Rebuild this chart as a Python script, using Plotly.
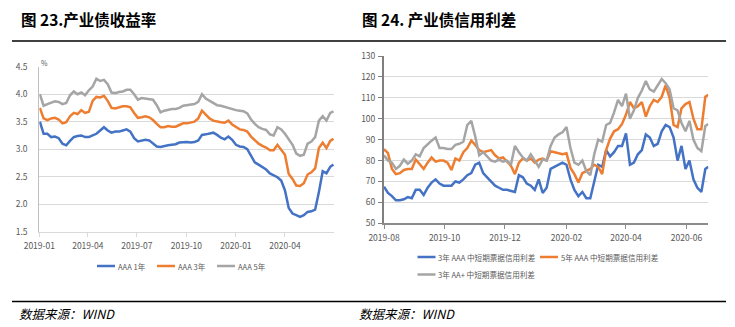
import plotly.graph_objects as go

W, H = 735, 327

# ---- 图23 产业债收益率 (%), weekly readings ----
yield_dates = [
    "2019-01-02", "2019-01-09", "2019-01-16", "2019-01-23", "2019-01-30", "2019-02-06",
    "2019-02-13", "2019-02-20", "2019-02-27", "2019-03-06", "2019-03-13", "2019-03-20",
    "2019-03-27", "2019-04-03", "2019-04-10", "2019-04-17", "2019-04-24", "2019-05-01",
    "2019-05-08", "2019-05-15", "2019-05-22", "2019-05-29", "2019-06-05", "2019-06-12",
    "2019-06-19", "2019-06-26", "2019-07-03", "2019-07-10", "2019-07-17", "2019-07-24",
    "2019-07-31", "2019-08-07", "2019-08-14", "2019-08-21", "2019-08-28", "2019-09-04",
    "2019-09-11", "2019-09-18", "2019-09-25", "2019-10-02", "2019-10-09", "2019-10-16",
    "2019-10-23", "2019-10-30", "2019-11-06", "2019-11-13", "2019-11-20", "2019-11-27",
    "2019-12-04", "2019-12-11", "2019-12-18", "2019-12-25", "2020-01-01", "2020-01-08",
    "2020-01-15", "2020-01-22", "2020-01-29", "2020-02-05", "2020-02-12", "2020-02-19",
    "2020-02-26", "2020-03-04", "2020-03-11", "2020-03-18", "2020-03-25", "2020-04-01",
    "2020-04-08", "2020-04-15", "2020-04-22", "2020-04-29", "2020-05-06", "2020-05-13",
    "2020-05-20", "2020-05-27", "2020-06-03", "2020-06-10", "2020-06-17", "2020-06-24",
    "2020-06-30",
]
aaa_1y = [
    3.50, 3.28, 3.28, 3.22, 3.23, 3.20, 3.10, 3.07, 3.15, 3.22, 3.24, 3.25,
    3.22, 3.22, 3.25, 3.28, 3.34, 3.40, 3.34, 3.30, 3.32, 3.32, 3.34, 3.36,
    3.32, 3.20, 3.14, 3.15, 3.17, 3.16, 3.11, 3.05, 3.04, 3.06, 3.07, 3.08,
    3.09, 3.12, 3.13, 3.13, 3.12, 3.13, 3.16, 3.26, 3.27, 3.28, 3.30, 3.26,
    3.21, 3.18, 3.23, 3.17, 3.08, 3.05, 3.04, 3.00, 2.88, 2.76, 2.72, 2.68,
    2.63, 2.56, 2.53, 2.49, 2.43, 2.25, 1.93, 1.83, 1.80, 1.77, 1.80, 1.86,
    1.87, 1.90, 2.22, 2.60, 2.56, 2.68, 2.72,
]
aaa_3y = [
    3.75, 3.56, 3.53, 3.56, 3.57, 3.54, 3.47, 3.49, 3.60, 3.66, 3.64, 3.71,
    3.66, 3.68, 3.88, 3.95, 3.94, 3.97, 3.88, 3.75, 3.74, 3.76, 3.78, 3.78,
    3.76, 3.66, 3.57, 3.58, 3.60, 3.58, 3.53, 3.46, 3.40, 3.40, 3.42, 3.41,
    3.41, 3.44, 3.47, 3.47, 3.48, 3.50, 3.56, 3.70, 3.63, 3.56, 3.52, 3.50,
    3.49, 3.48, 3.52, 3.45, 3.40, 3.36, 3.35, 3.32, 3.23, 3.16, 3.10, 3.06,
    3.03, 2.98, 2.98, 3.08, 2.98, 2.90, 2.55, 2.46, 2.34, 2.33, 2.38, 2.54,
    2.58, 2.65, 3.02, 3.12, 3.02, 3.15, 3.19,
]
aaa_5y = [
    4.00, 3.79, 3.82, 3.84, 3.87, 3.86, 3.82, 3.84, 3.98, 4.05, 4.00, 4.03,
    3.98, 4.07, 4.14, 4.28, 4.24, 4.26, 4.18, 4.03, 4.02, 4.04, 4.05, 4.08,
    4.08, 4.00, 3.90, 3.93, 3.92, 3.92, 3.90, 3.80, 3.67, 3.70, 3.72, 3.73,
    3.73, 3.75, 3.79, 3.80, 3.80, 3.82, 3.86, 4.00, 3.92, 3.88, 3.83, 3.80,
    3.79, 3.77, 3.75, 3.72, 3.71, 3.70, 3.69, 3.65, 3.54, 3.46, 3.40, 3.37,
    3.35, 3.27, 3.25, 3.40, 3.36, 3.28, 3.18, 3.08, 2.92, 2.88, 2.90, 3.10,
    3.14, 3.22, 3.52, 3.60, 3.52, 3.66, 3.69,
]
yield_tickvals = ["2019-01-01", "2019-04-01", "2019-07-01", "2019-10-01", "2020-01-01", "2020-04-01"]
yield_ticktext = ["2019-01", "2019-04", "2019-07", "2019-10", "2020-01", "2020-04"]

# ---- 图24 产业债信用利差 (BP) ----
spread_dates = [
    "2019-08-01", "2019-08-05", "2019-08-09", "2019-08-13", "2019-08-17", "2019-08-21",
    "2019-08-25", "2019-08-29", "2019-09-02", "2019-09-06", "2019-09-10", "2019-09-14",
    "2019-09-18", "2019-09-22", "2019-09-26", "2019-09-30", "2019-10-04", "2019-10-08",
    "2019-10-12", "2019-10-16", "2019-10-20", "2019-10-24", "2019-10-28", "2019-11-01",
    "2019-11-05", "2019-11-09", "2019-11-13", "2019-11-17", "2019-11-21", "2019-11-25",
    "2019-11-29", "2019-12-03", "2019-12-07", "2019-12-11", "2019-12-15", "2019-12-19",
    "2019-12-23", "2019-12-27", "2019-12-31", "2020-01-04", "2020-01-08", "2020-01-12",
    "2020-01-16", "2020-01-20", "2020-01-24", "2020-01-28", "2020-02-01", "2020-02-05",
    "2020-02-09", "2020-02-13", "2020-02-17", "2020-02-21", "2020-02-25", "2020-02-29",
    "2020-03-04", "2020-03-08", "2020-03-12", "2020-03-16", "2020-03-20", "2020-03-24",
    "2020-03-28", "2020-04-01", "2020-04-05", "2020-04-09", "2020-04-13", "2020-04-17",
    "2020-04-21", "2020-04-25", "2020-04-29", "2020-05-03", "2020-05-07", "2020-05-11",
    "2020-05-15", "2020-05-19", "2020-05-23", "2020-05-27", "2020-05-31", "2020-06-04",
    "2020-06-08", "2020-06-12", "2020-06-16", "2020-06-20", "2020-06-23",
]
aaa_3y_spread = [
    67.5, 64.5, 63.0, 61.0, 61.0, 61.5, 62.5, 62.0, 66.0, 66.0, 63.5, 67.0,
    69.5, 71.0, 69.0, 68.0, 68.0, 68.0, 70.0, 69.5, 71.0, 73.0, 74.0, 78.0,
    79.0, 74.0, 72.0, 70.0, 68.0, 67.0, 66.0, 66.0, 65.5, 65.0, 73.0, 72.0,
    69.0, 68.0, 66.0, 71.0, 64.5, 67.0, 76.0, 77.0, 78.0, 79.0, 78.0, 71.0,
    66.0, 63.0, 65.0, 62.0, 62.0, 70.0, 78.0, 77.0, 85.0, 82.0, 84.0, 87.0,
    87.0, 93.0, 78.0, 79.0, 83.0, 85.0, 92.5, 91.0, 87.0, 88.0, 94.0, 97.0,
    96.0, 91.0, 80.0, 87.0, 76.0, 80.0, 71.0, 67.0, 65.0, 76.0, 77.0,
]
aaa_5y_spread = [
    85.5, 83.5, 76.0, 73.5, 74.0, 75.5, 76.0, 76.0, 80.5, 78.0, 76.0, 79.0,
    81.5, 79.5, 80.0, 80.0, 79.0, 75.5, 81.0, 80.0, 84.0, 86.0, 89.5, 87.5,
    85.0, 84.0, 84.5, 85.0, 82.5, 81.0, 81.5, 79.5, 77.5, 73.5, 79.0, 81.0,
    80.0, 81.0, 79.0, 80.5, 81.0, 80.0, 84.5, 84.0, 83.5, 83.0, 83.5, 76.5,
    73.5, 69.5, 74.0, 75.0, 76.0, 78.0, 77.0, 73.5, 85.0, 90.5, 94.0, 95.0,
    97.5, 102.0, 108.0, 105.0, 106.0, 108.0, 101.0, 106.0, 109.0, 108.0, 110.5, 116.0,
    110.0, 97.0, 96.0, 105.0, 107.0, 108.0, 100.0, 95.0, 95.0, 110.5, 111.5,
]
aa_plus_3y_spread = [
    82.5, 80.0, 79.0, 76.0, 77.5, 80.5, 78.5, 80.0, 83.0, 82.0, 86.0, 88.0,
    89.5, 91.0, 86.0, 86.0, 85.5, 85.5, 87.5, 88.0, 89.0, 97.0, 99.0, 91.5,
    82.5, 84.0, 82.0, 80.0, 79.5, 80.5, 79.5, 80.0, 78.0, 87.0, 84.0, 81.5,
    80.0, 83.0, 80.0, 77.0, 80.5, 80.0, 87.0, 91.0, 92.5, 93.5, 96.0, 86.0,
    79.0, 78.0, 80.0, 75.0, 73.0, 83.0, 90.0, 89.0, 97.0, 98.0, 103.0, 109.0,
    106.0, 112.0, 100.0, 104.0, 110.0, 113.5, 118.0, 114.0, 113.0, 116.0, 119.0, 117.0,
    114.0, 105.0, 104.0, 98.0, 94.0, 99.0, 90.0, 86.0, 84.5, 96.5, 97.5,
]
spread_tickvals = ["2019-08-01", "2019-10-01", "2019-12-01", "2020-02-01", "2020-04-01", "2020-06-01"]
spread_ticktext = ["2019-08", "2019-10", "2019-12", "2020-02", "2020-04", "2020-06"]

BLUE, ORANGE, GRAY = "#4472C4", "#ED7D31", "#A5A5A5"
TICK_FONT = dict(family="Noto Sans CJK SC, sans-serif", size=8.5, color="#595959")


def px_x(x):
    return x / W


def px_y(y):
    return 1 - y / H


fig = go.Figure()

for name, vals, col in [("AAA 1年", aaa_1y, BLUE), ("AAA 3年", aaa_3y, ORANGE), ("AAA 5年", aaa_5y, GRAY)]:
    fig.add_trace(go.Scatter(x=yield_dates, y=vals, name=name, mode="lines",
                             line=dict(color=col, width=2.5), xaxis="x", yaxis="y",
                             showlegend=False))

for name, vals, col in [("3年 AAA 中短期票据信用利差", aaa_3y_spread, BLUE),
                        ("5年 AAA 中短期票据信用利差", aaa_5y_spread, ORANGE),
                        ("3年 AA+ 中短期票据信用利差", aa_plus_3y_spread, GRAY)]:
    fig.add_trace(go.Scatter(x=spread_dates, y=vals, name=name, mode="lines",
                             line=dict(color=col, width=2.5), xaxis="x2", yaxis="y2",
                             showlegend=False))

fig.update_layout(
    width=W, height=H, autosize=False,
    margin=dict(l=0, r=0, t=0, b=0, autoexpand=False),
    paper_bgcolor="white", plot_bgcolor="white",
    xaxis=dict(domain=[px_x(39.3), px_x(334)], type="date",
               range=["2019-01-01", "2020-07-01"],
               tickvals=yield_tickvals, ticktext=yield_ticktext,
               showgrid=False, zeroline=False, showline=True, linecolor="#d9d9d9", linewidth=1,
               ticks="outside", ticklen=4, tickcolor="#d9d9d9", tickfont=TICK_FONT,
               ticklabelstandoff=2, anchor="y", automargin=False),
    yaxis=dict(domain=[px_y(231.7), px_y(66.7)], range=[1.5, 4.5], dtick=0.5,
               tickformat=".1f", showgrid=True, gridcolor="#d9d9d9", gridwidth=1,
               zeroline=False, showline=True, linecolor="#bfbfbf", linewidth=1,
               ticks="", tickfont=TICK_FONT, ticklabelstandoff=9, anchor="x",
               automargin=False),
    xaxis2=dict(domain=[px_x(384), px_x(708.3)], type="date",
                range=["2019-08-01", "2020-06-23"],
                tickvals=spread_tickvals, ticktext=spread_ticktext,
                showgrid=False, zeroline=False, showline=True, linecolor="#8c8c8c", linewidth=1.5,
                ticks="outside", ticklen=4, tickcolor="#8c8c8c", tickfont=TICK_FONT,
                ticklabelstandoff=2, anchor="y2", automargin=False),
    yaxis2=dict(domain=[px_y(223.3), px_y(56)], range=[50, 130], dtick=10,
                showgrid=True, gridcolor="#d9d9d9", gridwidth=1,
                zeroline=False, showline=True, linecolor="#7f7f7f", linewidth=2,
                ticks="outside", ticklen=4, tickcolor="#7f7f7f", tickwidth=1.2,
                tickfont=TICK_FONT, ticklabelstandoff=1, anchor="x2", automargin=False),
)

shapes = []
annotations = []

# rules above and below the two panels
for yy in (41, 301.5):
    shapes.append(dict(type="line", xref="paper", yref="paper",
                       x0=px_x(12), x1=px_x(726), y0=px_y(yy), y1=px_y(yy),
                       line=dict(color="black", width=1.6)))

# titles
TITLE_FONT = dict(family="Noto Sans CJK SC, sans-serif", size=15.5, color="black")
annotations.append(dict(text="<b>图 23.产业债收益率</b>", x=px_x(19), y=px_y(19),
                        xref="paper", yref="paper", xanchor="left", yanchor="middle",
                        showarrow=False, font=TITLE_FONT))
annotations.append(dict(text="<b>图 24. 产业债信用利差</b>", x=px_x(360), y=px_y(19),
                        xref="paper", yref="paper", xanchor="left", yanchor="middle",
                        showarrow=False, font=TITLE_FONT))

# sources
SRC_FONT = dict(family="Noto Sans CJK SC, sans-serif", size=12.5, color="black")
for xx in (17, 357):
    annotations.append(dict(text="<i>数据来源：WIND</i>", x=px_x(xx), y=px_y(313),
                            xref="paper", yref="paper", xanchor="left", yanchor="middle",
                            showarrow=False, font=SRC_FONT))

# unit label of the yield panel
annotations.append(dict(text="%", x=px_x(44), y=px_y(63), xref="paper", yref="paper",
                        xanchor="center", yanchor="middle", showarrow=False,
                        font=dict(family="Noto Sans CJK SC, sans-serif", size=7, color="#595959")))

# legends
LEG_FONT = dict(family="Noto Sans CJK SC, sans-serif", size=7.6, color="#595959")


def legend_item(x0, y, color, label):
    shapes.append(dict(type="line", xref="paper", yref="paper",
                       x0=px_x(x0), x1=px_x(x0 + 18), y0=px_y(y), y1=px_y(y),
                       line=dict(color=color, width=2.5)))
    annotations.append(dict(text=label, x=px_x(x0 + 18.5), y=px_y(y), xref="paper", yref="paper",
                            xanchor="left", yanchor="middle", showarrow=False, font=LEG_FONT))


legend_item(97, 266, BLUE, "AAA 1年")
legend_item(157, 266, ORANGE, "AAA 3年")
legend_item(217, 266, GRAY, "AAA 5年")

legend_item(417.5, 257, BLUE, "3年 AAA 中短期票据信用利差")
legend_item(540, 257, ORANGE, "5年 AAA 中短期票据信用利差")
legend_item(417.5, 274.5, GRAY, "3年 AA+ 中短期票据信用利差")

fig.update_layout(shapes=shapes, annotations=annotations)

fig.write_html("out.html")
